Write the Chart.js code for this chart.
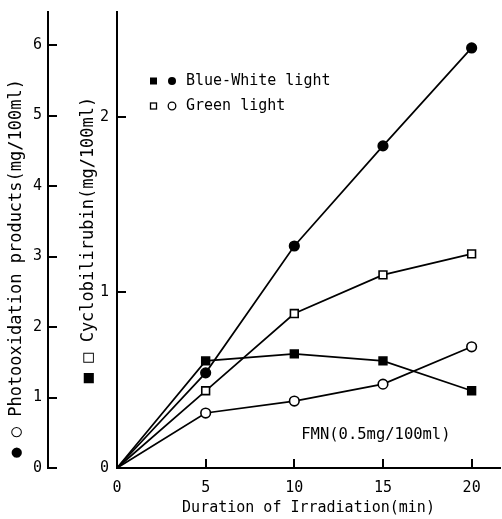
<!DOCTYPE html>
<html><head><meta charset="utf-8">
<script src="https://cdn.jsdelivr.net/npm/chart.js@4"></script>
<style>html,body{margin:0;padding:0;background:#fff;}#wrap{width:502px;height:519px;}</style>
</head><body><div id="wrap"><canvas id="c" width="502" height="519"></canvas></div>
<script>
// ---- data ----
const minutes = [0, 5, 10, 15, 20];
const photoBlueWhite = [0, 1.35, 3.15, 4.57, 5.96];
const photoGreen = [0, 0.78, 0.95, 1.19, 1.72];
const cycloBlueWhite = [0, 0.61, 0.65, 0.61, 0.44];
const cycloGreen = [0, 0.44, 0.88, 1.10, 1.22];
const xTickValues = [0, 5, 10, 15, 20];
const photoTickValues = [0, 1, 2, 3, 4, 5, 6];
const cycloTickValues = [0, 1, 2];
const legendLabels = ['Blue-White light', 'Green light'];
const noteText = 'FMN(0.5mg/100ml)';
const notePosition = [14.6, 0.19];
const xTitle = 'Duration of Irradiation(min)';
const photoTitle = ' \u25CF \u25CB Photooxidation products(mg/100ml)';
const cycloTitle = '\u25A0 \u25A1 Cyclobilirubin(mg/100ml)';

const MONO = "'DejaVu Sans Mono', 'Liberation Mono', monospace";
const pts = (ys) => minutes.map((x, i) => ({x: x, y: ys[i]}));
const hideFirst = (r) => (c) => c.dataIndex === 0 ? 0 : r;

function mkDataset(label, ys, axis, style, filled) {
  const r = style === 'rect' ? 5.5 : 4.8;
  return {
    label, data: pts(ys), yAxisID: axis,
    borderColor: '#000', borderWidth: 1.7, tension: 0,
    pointStyle: style, pointRadius: hideFirst(r), pointHoverRadius: hideFirst(r),
    pointBackgroundColor: filled ? '#000' : '#fff',
    pointBorderColor: '#000', pointBorderWidth: 1.6,
    fill: false, clip: false
  };
}

const inwardTicks = {
  id: 'inwardTicks',
  afterDraw(chart) {
    const ctx = chart.ctx;
    ctx.save();
    ctx.strokeStyle = '#000';
    ctx.lineWidth = 2;
    ['yP', 'yC'].forEach(id => {
      const s = chart.scales[id];
      s.ticks.forEach(t => {
        const y = Math.round(s.getPixelForValue(t.value));
        ctx.beginPath(); ctx.moveTo(s.right, y); ctx.lineTo(s.right + 9, y); ctx.stroke();
      });
    });
    const sx = chart.scales.x;
    sx.ticks.forEach(t => {
      if (t.value === 0) return;
      const x = Math.round(sx.getPixelForValue(t.value));
      ctx.beginPath(); ctx.moveTo(x, sx.top); ctx.lineTo(x, sx.top - 9); ctx.stroke();
    });
    ctx.restore();
  }
};

const annotations = {
  id: 'annotations',
  afterDraw(chart) {
    const ctx = chart.ctx;
    const a = chart.chartArea;
    ctx.save();
    ctx.fillStyle = '#000'; ctx.strokeStyle = '#000'; ctx.lineWidth = 1.3;
    ctx.font = '15px ' + MONO;
    ctx.textBaseline = 'middle';
    ctx.textAlign = 'left';
    const rows = [a.top + 69, a.top + 94];
    ctx.fillRect(a.left + 33, rows[0] - 3.5, 7, 7);
    ctx.beginPath(); ctx.arc(a.left + 55, rows[0], 4, 0, Math.PI * 2); ctx.fill();
    ctx.fillText(legendLabels[0], a.left + 69, rows[0]);
    ctx.strokeRect(a.left + 33.5, rows[1] - 3, 6, 6);
    ctx.beginPath(); ctx.arc(a.left + 55, rows[1], 3.8, 0, Math.PI * 2); ctx.stroke();
    ctx.fillText(legendLabels[1], a.left + 69, rows[1]);
    const sx = chart.scales.x, sy = chart.scales.yC;
    ctx.textAlign = 'center';
    ctx.font = '15.5px ' + MONO;
    ctx.fillText(noteText, sx.getPixelForValue(notePosition[0]), sy.getPixelForValue(notePosition[1]));
    ctx.restore();
  }
};

const tickFont = {family: MONO, size: 15};
const titleFont = {family: MONO, size: 17};

new Chart(document.getElementById('c'), {
  type: 'line',
  data: {
    datasets: [
      mkDataset('Blue-White light (photooxidation)', photoBlueWhite, 'yP', 'circle', true),
      mkDataset('Green light (photooxidation)', photoGreen, 'yP', 'circle', false),
      mkDataset('Blue-White light (cyclobilirubin)', cycloBlueWhite, 'yC', 'rect', true),
      mkDataset('Green light (cyclobilirubin)', cycloGreen, 'yC', 'rect', false)
    ]
  },
  options: {
    responsive: false,
    animation: false,
    devicePixelRatio: 1,
    layout: {autoPadding: false, padding: {top: 12, right: 2, left: 0, bottom: 0}},
    plugins: {legend: {display: false}, tooltip: {enabled: false}},
    scales: {
      x: {
        type: 'linear', position: 'bottom', min: 0, max: 21.6,
        afterBuildTicks: s => { s.ticks = xTickValues.map(v => ({value: v})); },
        afterFit: s => { s.height = 51; s.paddingRight = 0; s.paddingLeft = 0; },
        grid: {display: false, drawTicks: false},
        border: {display: true, color: '#000', width: 2},
        ticks: {color: '#000', font: tickFont, padding: 11, maxRotation: 0, autoSkip: false},
        title: {display: true, text: xTitle, color: '#000', font: {family: MONO, size: 15}, padding: {top: 0, bottom: 2}}
      },
      yP: {
        type: 'linear', position: 'left', weight: 10, min: 0, max: 6.47,
        afterBuildTicks: s => { s.ticks = photoTickValues.map(v => ({value: v})); },
        afterFit: s => { s.width = 48; s.paddingTop = 0; s.paddingBottom = 0; },
        grid: {display: false, drawTicks: false},
        border: {display: true, color: '#000', width: 2},
        ticks: {color: '#000', font: tickFont, padding: 6, autoSkip: false},
        title: {display: true, text: photoTitle, align: 'start', color: '#000', font: titleFont, padding: {top: 6, bottom: 0}}
      },
      yC: {
        type: 'linear', position: 'left', weight: 0, min: 0, max: 2.598,
        afterBuildTicks: s => { s.ticks = cycloTickValues.map(v => ({value: v})); },
        afterFit: s => { s.width = 69; s.paddingTop = 0; s.paddingBottom = 0; },
        grid: {display: false, drawTicks: false},
        border: {display: true, color: '#000', width: 2},
        ticks: {color: '#000', font: tickFont, padding: 8, autoSkip: false},
        title: {display: true, text: cycloTitle, color: '#000', font: titleFont, padding: {top: 30, bottom: 0}}
      }
    }
  },
  plugins: [inwardTicks, annotations]
});
</script>
</body></html>
